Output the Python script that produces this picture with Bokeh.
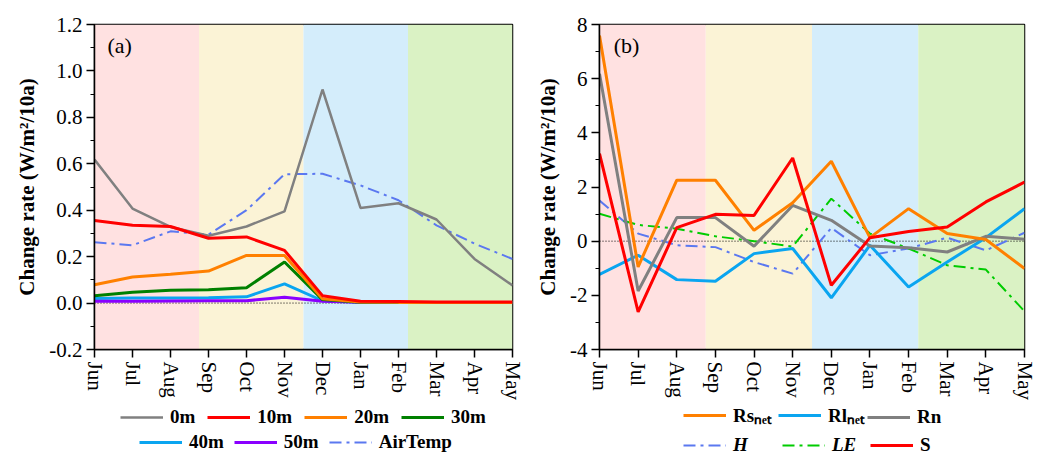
import numpy as np
from bokeh.plotting import figure
from bokeh.layouts import row, column
from bokeh.models import (Range1d, BoxAnnotation, Span, Legend, LegendItem, FixedTicker,
                          NumeralTickFormatter, Label)
from bokeh.embed import file_html
from bokeh.resources import INLINE

months = ["Jun", "Jul", "Aug", "Sep", "Oct", "Nov", "Dec", "Jan", "Feb", "Mar", "Apr", "May"]

# panel (a): water temperature trend by depth
t0m = [0.618, 0.407, 0.328, 0.290, 0.330, 0.395, 0.920, 0.410, 0.430, 0.360, 0.190, 0.076]
t10m = [0.356, 0.335, 0.330, 0.279, 0.285, 0.227, 0.032, 0.008, 0.007, 0.005, 0.005, 0.005]
t20m = [0.079, 0.112, 0.124, 0.138, 0.205, 0.205, 0.019, 0.005, 0.003, 0.003, 0.003, 0.003]
t30m = [0.032, 0.047, 0.055, 0.057, 0.066, 0.177, 0.015, 0.004, 0.003, 0.003, 0.003, 0.003]
t40m = [0.020, 0.022, 0.022, 0.023, 0.027, 0.083, 0.010, 0.003, 0.002, 0.002, 0.002, 0.002]
t50m = [0.008, 0.008, 0.009, 0.010, 0.010, 0.025, 0.008, 0.003, 0.002, 0.002, 0.002, 0.002]
airtemp = [0.262, 0.249, 0.309, 0.295, 0.400, 0.555, 0.557, 0.507, 0.443, 0.335, 0.256, 0.190]

# panel (b): heat budget terms
rs_net = [7.59, -0.95, 2.25, 2.25, 0.40, 1.42, 2.95, 0.13, 1.20, 0.28, 0.06, -1.01]
rl_net = [-1.23, -0.52, -1.42, -1.48, -0.46, -0.27, -2.09, -0.15, -1.69, -0.77, 0.13, 1.20]
rn = [6.18, -1.84, 0.87, 0.87, -0.19, 1.32, 0.77, -0.18, -0.24, -0.40, 0.18, 0.07]
h_flux = [1.50, 0.28, -0.15, -0.22, -0.77, -1.20, 0.49, -0.52, -0.27, 0.13, -0.34, 0.31]
le_flux = [1.01, 0.60, 0.46, 0.18, 0.00, -0.20, 1.57, 0.28, -0.27, -0.89, -1.05, -2.59]
s_store = [3.23, -2.61, 0.50, 0.99, 0.95, 3.07, -1.63, 0.13, 0.36, 0.52, 1.45, 2.18]

x = list(range(len(months)))
SERIF = "Liberation Serif"
season_colors = ["#FFE1E1", "#FBF3D6", "#D4EDFB", "#DAF2C4"]

FRAME_H = 325
TOP_H = 24 + FRAME_H + 56
LEG_H = 454 - TOP_H


def make_fig(ymin, ymax, step, fmt, bl, fw, br, tag, tag_x, tag_y):
    p = figure(frame_width=fw, frame_height=FRAME_H,
               x_range=Range1d(0, len(months) - 1), y_range=Range1d(ymin, ymax),
               output_backend="svg", toolbar_location=None,
               min_border_left=bl, min_border_right=br, min_border_top=24, min_border_bottom=56,
               background_fill_color="white", border_fill_color="white")
    n = len(months) - 1
    q = n / len(season_colors)
    for i, c in enumerate(season_colors):
        p.add_layout(BoxAnnotation(left=i * q, right=(i + 1) * q, fill_color=c, fill_alpha=1,
                                   line_alpha=0, level="underlay"))
    p.add_layout(Span(location=0, dimension="width", line_color="black", line_width=1,
                      line_dash="1 2", level="underlay"))
    p.xgrid.visible = False
    p.ygrid.visible = False
    p.outline_line_color = "black"
    p.outline_line_width = 1.5
    p.outline_line_alpha = 1
    p.xaxis.ticker = FixedTicker(ticks=x, minor_ticks=[])
    p.xaxis.major_label_overrides = {i: m for i, m in zip(x, months)}
    p.xaxis.major_label_orientation = "vertical"
    nst = int(round((ymax - ymin) / step))
    majors = [round(ymin + k * step, 6) for k in range(nst + 1)]
    minors = [round(ymin + (k + 0.5) * step, 6) for k in range(nst)]
    p.yaxis.ticker = FixedTicker(ticks=majors, minor_ticks=minors)
    p.yaxis.formatter = NumeralTickFormatter(format=fmt)
    for ax in [p.xaxis[0], p.yaxis[0]]:
        ax.axis_line_width = 1.5
        ax.axis_line_color = "black"
        ax.major_tick_line_width = 1.5
        ax.minor_tick_line_width = 1.2
        ax.major_tick_in = 0
        ax.major_tick_out = 8
        ax.minor_tick_in = 0
        ax.minor_tick_out = 4
        ax.major_label_text_font = SERIF
        ax.major_label_text_font_size = "21px"
        ax.major_label_text_color = "black"
        ax.major_label_standoff = 4
    p.yaxis.axis_label = "Change rate (W/m\u00b2/10a)"
    p.yaxis.axis_label_text_font = SERIF
    p.yaxis.axis_label_text_font_size = "21px"
    p.yaxis.axis_label_text_font_style = "bold"
    p.yaxis.axis_label_text_color = "black"
    p.yaxis.axis_label_standoff = 7
    p.add_layout(Label(x=tag_x, y=tag_y, text=tag, text_font=SERIF, text_font_size="22px",
                       text_baseline="middle", text_color="black"))
    return p


def legend_fig(width):
    # legend strip: its ranges lie far from the data, so its key renderers stay out of view
    f = figure(width=width, height=LEG_H, x_range=Range1d(0, 1), y_range=Range1d(1000, 1001),
               output_backend="svg", toolbar_location=None, x_axis_type=None, y_axis_type=None,
               min_border=0, background_fill_color="white", border_fill_color="white")
    f.outline_line_alpha = 0
    f.xgrid.visible = False
    f.ygrid.visible = False
    return f


def legend(f, items, lx, ly, style="bold", spacing=12):
    lg = Legend(items=items, location=(lx, ly), orientation="horizontal",
                label_text_font=SERIF, label_text_font_size="19px", label_text_font_style=style,
                label_text_color="black", glyph_width=43, glyph_height=20, label_height=20,
                label_standoff=7, spacing=spacing, padding=0, margin=0,
                border_line_alpha=0, background_fill_alpha=0)
    f.add_layout(lg)


def key(f, series, color, width, dash="solid"):
    return f.line(x, series, line_color=color, line_width=width, line_dash=dash)


DASHDOT = "12 5 3 5"
C_GRAY, C_RED, C_ORANGE, C_GREEN = "#808080", "#FF0000", "#FF8000", "#008000"
C_CYAN, C_PURPLE, C_BLUE, C_LIME = "#0AA5F0", "#8A00FF", "#5B78F0", "#00CC00"

# ---------------- panel (a)
pa = make_fig(-0.2, 1.2, 0.2, "0.0", 94, 418, 21, "(a)", 0.34, 1.11)
pa.line(x, airtemp, line_color=C_BLUE, line_width=2, line_dash=DASHDOT)
pa.line(x, t0m, line_color=C_GRAY, line_width=2.5)
pa.line(x, t40m, line_color=C_CYAN, line_width=3)
pa.line(x, t50m, line_color=C_PURPLE, line_width=3)
pa.line(x, t30m, line_color=C_GREEN, line_width=3)
pa.line(x, t20m, line_color=C_ORANGE, line_width=3)
pa.line(x, t10m, line_color=C_RED, line_width=3)

la = legend_fig(533)
legend(la, [LegendItem(label="0m", renderers=[key(la, t0m, C_GRAY, 2.5)]),
            LegendItem(label="10m", renderers=[key(la, t10m, C_RED, 3)]),
            LegendItem(label="20m", renderers=[key(la, t20m, C_ORANGE, 3)]),
            LegendItem(label="30m", renderers=[key(la, t30m, C_GREEN, 3)])],
       120, LEG_H - 23)
legend(la, [LegendItem(label="40m", renderers=[key(la, t40m, C_CYAN, 3)]),
            LegendItem(label="50m", renderers=[key(la, t50m, C_PURPLE, 3)]),
            LegendItem(label="AirTemp", renderers=[key(la, airtemp, C_BLUE, 2, DASHDOT)])],
       139, LEG_H - 48, spacing=10)

# ---------------- panel (b)
pb = make_fig(-4, 8, 2, "0", 60, 425, 22, "(b)", 0.37, 7.22)
pb.line(x, h_flux, line_color=C_BLUE, line_width=2, line_dash=DASHDOT)
pb.line(x, le_flux, line_color=C_LIME, line_width=2, line_dash=DASHDOT)
pb.line(x, rl_net, line_color=C_CYAN, line_width=3)
pb.line(x, rn, line_color=C_GRAY, line_width=3)
pb.line(x, rs_net, line_color=C_ORANGE, line_width=3)
pb.line(x, s_store, line_color=C_RED, line_width=3)

lb = legend_fig(507)
legend(lb, [LegendItem(label="Rs\u2099\u2091\u209c", renderers=[key(lb, rs_net, C_ORANGE, 3)])],
       150, LEG_H - 23)
legend(lb, [LegendItem(label="Rl\u2099\u2091\u209c", renderers=[key(lb, rl_net, C_CYAN, 3)])],
       245, LEG_H - 23)
legend(lb, [LegendItem(label="Rn", renderers=[key(lb, rn, C_GRAY, 3)])], 334, LEG_H - 23)
legend(lb, [LegendItem(label="H", renderers=[key(lb, h_flux, C_BLUE, 2, DASHDOT)])],
       150, LEG_H - 51, style="bold italic")
legend(lb, [LegendItem(label="LE", renderers=[key(lb, le_flux, C_LIME, 2, DASHDOT)])],
       249, LEG_H - 51, style="bold italic")
legend(lb, [LegendItem(label="S", renderers=[key(lb, s_store, C_RED, 3)])], 337, LEG_H - 51)

layout = column(row(pa, pb), row(la, lb))
open("out.html", "w").write(file_html(layout, INLINE))
